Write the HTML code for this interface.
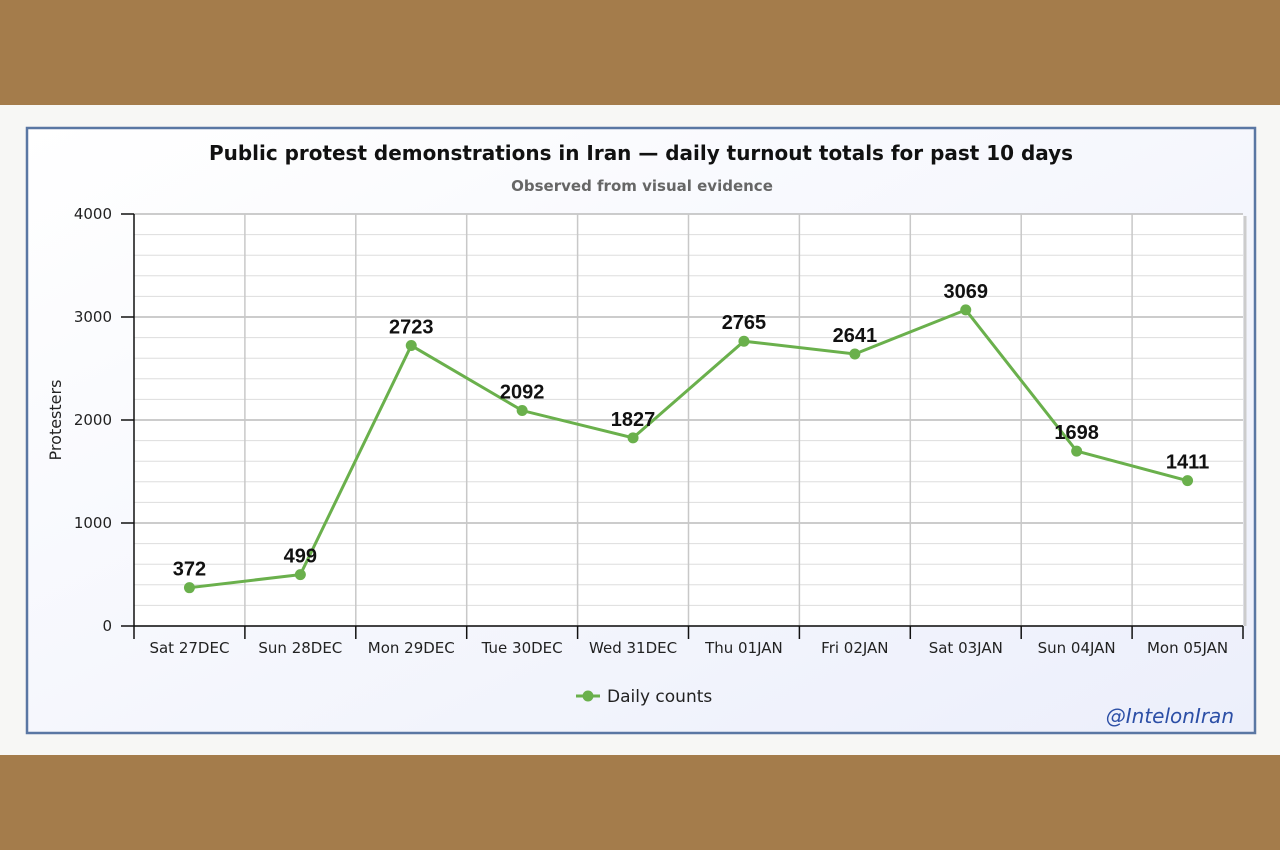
<!DOCTYPE html>
<html><head><meta charset="utf-8"><style>
body{margin:0;width:1280px;height:850px;overflow:hidden;background:#f7f7f5;font-family:"Liberation Sans","DejaVu Sans",sans-serif}
.band{position:absolute;left:0;width:1280px;background:#a47c4b}
</style></head><body>
<div class="band" style="top:0;height:105px"></div>
<div class="band" style="top:755px;height:95px"></div>
<svg width="1280" height="850" style="position:absolute;left:0;top:0">
<defs><linearGradient id="bg" x1="0" y1="0" x2="1" y2="1"><stop offset="0" stop-color="#ffffff"/><stop offset="1" stop-color="#eceffb"/></linearGradient></defs>
<rect x="27" y="128" width="1228" height="605" fill="url(#bg)" stroke="#5a77a3" stroke-width="2.5"/>
<text x="641" y="160" text-anchor="middle" font-size="20" font-weight="bold" fill="#111" font-family="DejaVu Sans, sans-serif" textLength="864" lengthAdjust="spacingAndGlyphs">Public protest demonstrations in Iran — daily turnout totals for past 10 days</text>
<text x="642" y="191" text-anchor="middle" font-size="15" font-weight="bold" fill="#666" font-family="DejaVu Sans, sans-serif">Observed from visual evidence</text>
<g id="plot"></g>
<text x="61" y="420" transform="rotate(-90 61 420)" text-anchor="middle" font-size="16" fill="#222" font-family="DejaVu Sans, sans-serif">Protesters</text>
<g>
<line x1="576" y1="696" x2="600" y2="696" stroke="#6ab04c" stroke-width="3"/>
<circle cx="588" cy="696" r="5.5" fill="#6ab04c"/>
<text x="607" y="702" font-size="17" fill="#222" font-family="DejaVu Sans, sans-serif">Daily counts</text>
</g>
<text x="1234" y="723" text-anchor="end" font-size="20" font-style="italic" fill="#2c4fa6" font-family="DejaVu Sans, sans-serif">@IntelonIran</text>
</svg>
<script>
const categories=["Sat 27DEC","Sun 28DEC","Mon 29DEC","Tue 30DEC","Wed 31DEC","Thu 01JAN","Fri 02JAN","Sat 03JAN","Sun 04JAN","Mon 05JAN"];
const values=[372,499,2723,2092,1827,2765,2641,3069,1698,1411];
const yTicks=[0,1000,2000,3000,4000];
const NS="http://www.w3.org/2000/svg";
const L=134,R=1243,T=214,B=626,YMAX=4000;
const g=document.getElementById('plot');
const cw=(R-L)/categories.length;
const x=i=>L+cw*(i+0.5);
const y=v=>B-(v/YMAX)*(B-T);
function mk(tag,a,parent){const e=document.createElementNS(NS,tag);for(const k in a)e.setAttribute(k,a[k]);(parent||g).appendChild(e);return e;}
mk('rect',{x:L,y:T,width:R-L,height:B-T,fill:'#fff'});
mk('line',{x1:R+2,y1:T+2,x2:R+2,y2:B,stroke:'#ccc','stroke-width':3});
for(let v=0;v<=YMAX;v+=200){const major=v%1000===0;const l=mk('line',{x1:L,x2:R,y1:y(v),y2:y(v),stroke:major?'#bbb':'#ddd','stroke-width':major?1.5:1});

}
for(let i=1;i<categories.length;i++){mk('line',{x1:L+cw*i,x2:L+cw*i,y1:T,y2:B,stroke:'#c8c8c8','stroke-width':1.5});}
mk('line',{x1:L,x2:L,y1:T,y2:B,stroke:'#111','stroke-width':1.5});
mk('line',{x1:L,x2:R,y1:B,y2:B,stroke:'#111','stroke-width':1.5});
yTicks.forEach(v=>{mk('line',{x1:L-13,x2:L,y1:y(v),y2:y(v),stroke:'#111','stroke-width':1.5});
const t=mk('text',{x:L-22,y:y(v)+5,'text-anchor':'end','font-size':15,fill:'#222','font-family':'DejaVu Sans, sans-serif'});t.textContent=v;

});
for(let i=0;i<=categories.length;i++){mk('line',{x1:L+cw*i,x2:L+cw*i,y1:B,y2:B+13,stroke:'#111','stroke-width':1.5});}
categories.forEach((c,i)=>{const t=mk('text',{x:x(i),y:B+27,'text-anchor':'middle','font-size':15,fill:'#222','font-family':'DejaVu Sans, sans-serif'});t.textContent=c;

});
const line=mk('polyline',{points:values.map((v,i)=>x(i)+','+y(v)).join(' '),fill:'none',stroke:'#6ab04c','stroke-width':3});


values.forEach((v,i)=>{const c=mk('circle',{cx:x(i),cy:y(v),r:5.5,fill:'#6ab04c'});


const t=mk('text',{x:x(i),y:y(v)-12,'text-anchor':'middle','font-size':20,'font-weight':'bold',fill:'#111'});t.textContent=v;

});
</script>
</body></html>
